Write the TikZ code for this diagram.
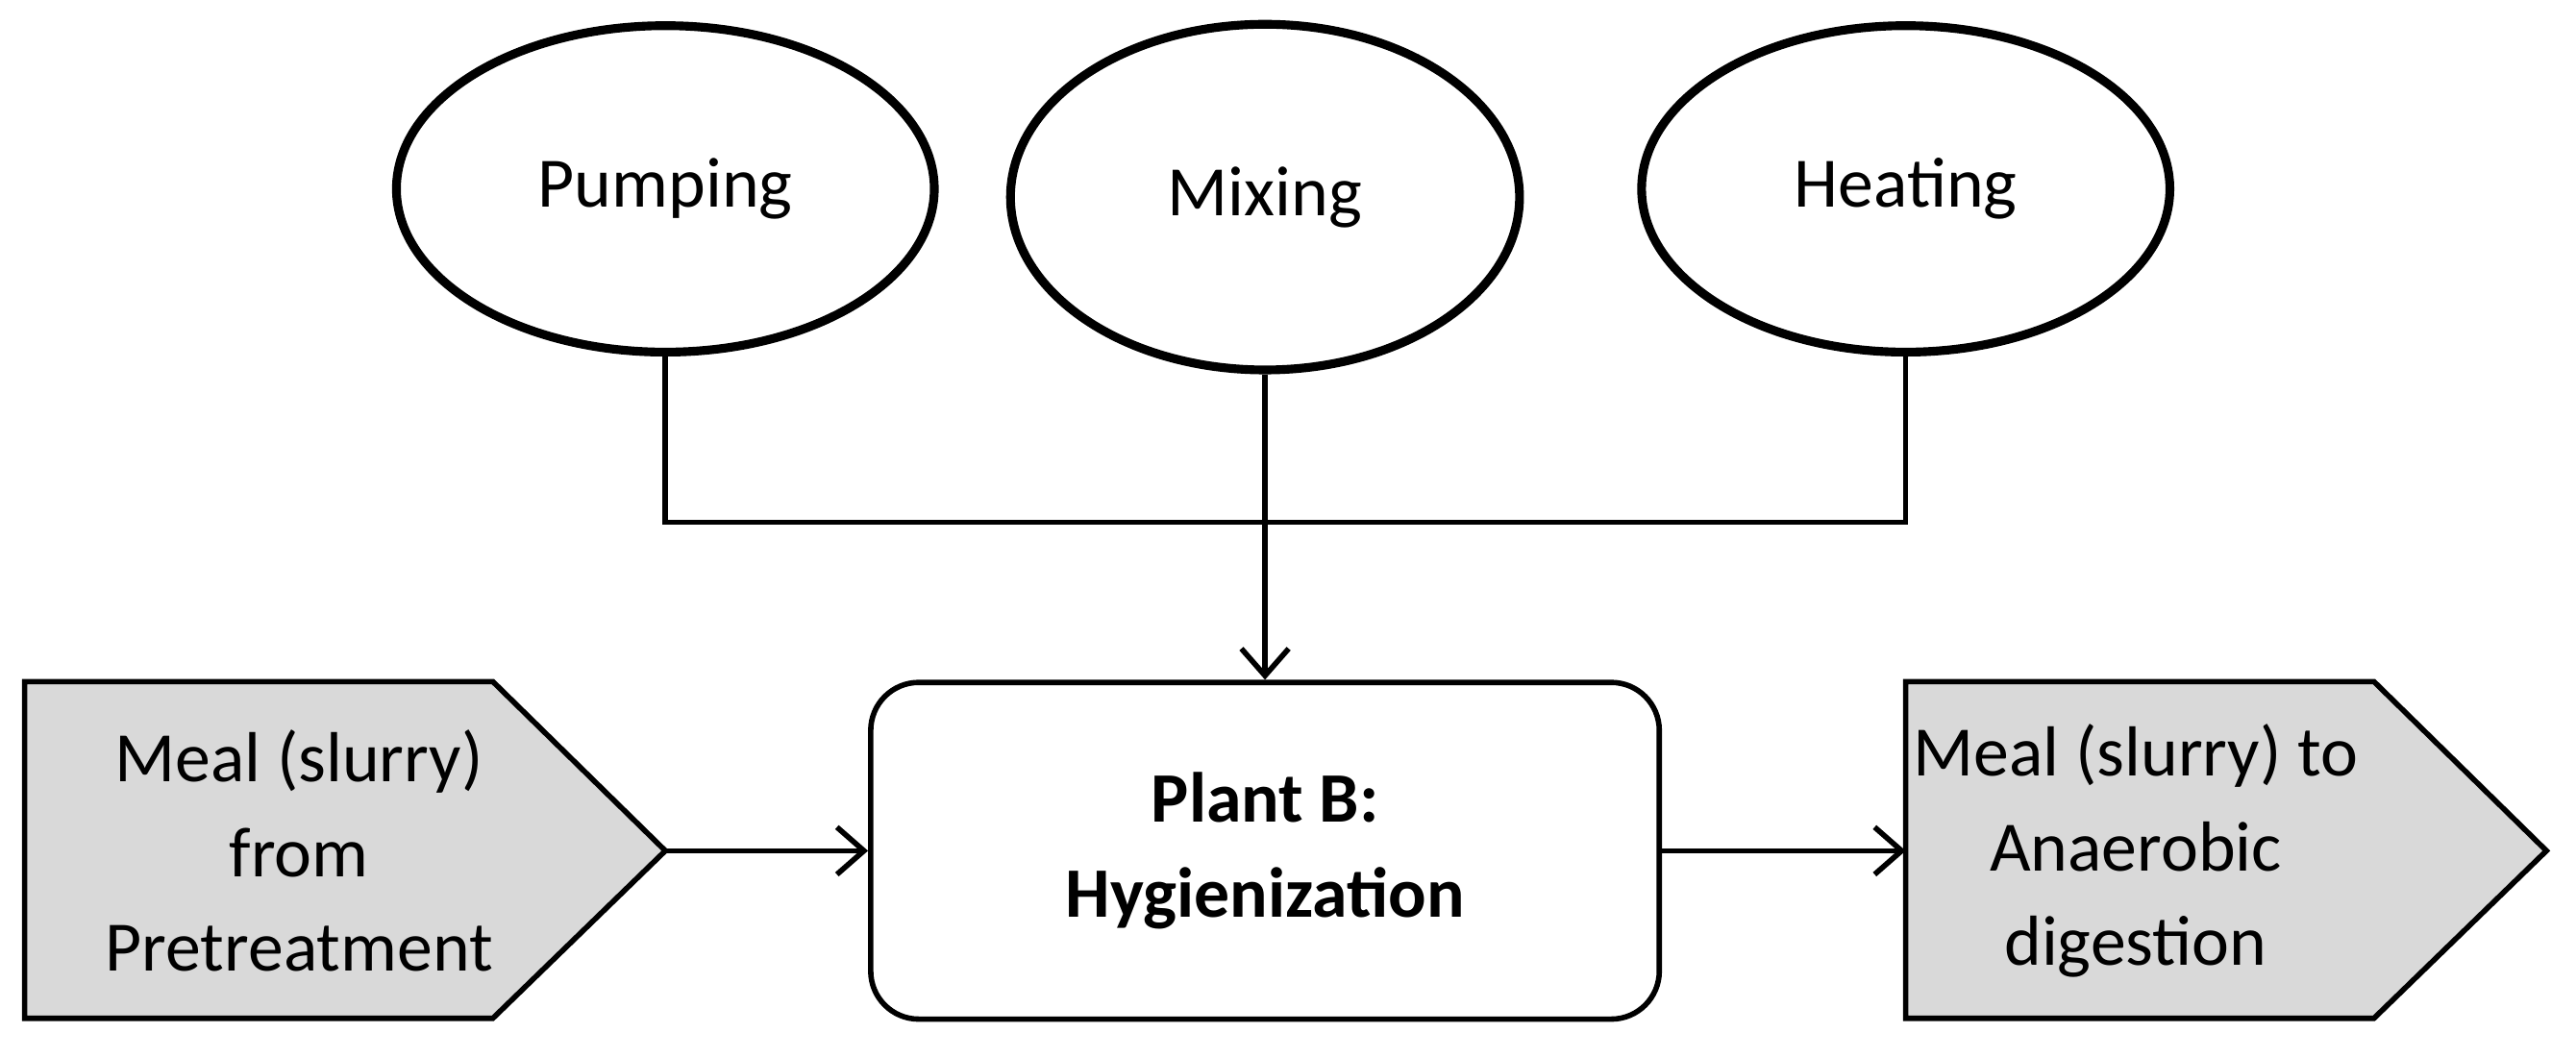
\documentclass[tikz,border=0pt]{standalone}
\usepackage{fontspec}
\setmainfont{Carlito}
\usetikzlibrary{shapes.geometric,arrows.meta}
\definecolor{boxgrey}{RGB}{217,217,217}
\begin{document}
\begin{tikzpicture}[x=0.0171cm,y=-0.0171cm,
  every node/.style={font=\fontsize{21}{28}\selectfont},
  task/.style={ellipse,draw,line width=2.6pt},
  line/.style={line width=1.6pt},
  >={Straight Barb[length=8pt,width=14pt,line width=1.6pt]},
]
  \useasboundingbox (0,0) rectangle (1568,643);

  \node[task,minimum width=5.6cm,minimum height=3.4cm] (pump) at (405,115) {Pumping};
  \node[task,minimum width=5.3cm,minimum height=3.6cm] (mix) at (770,120) {Mixing};
  \node[task,minimum width=5.5cm,minimum height=3.4cm] (heat) at (1160,115) {Heating};

  \node[draw,line width=1.6pt,rounded corners=0.5cm,align=center,
    minimum width=480*0.0171cm,minimum height=205*0.0171cm,font=\fontsize{21}{28}\selectfont\bfseries]
    (plant) at (770,518) {Plant B:\\Hygienization};

  % grey in/out arrows
  \draw[line,fill=boxgrey] (15,415) -- (300,415) -- (405,518) -- (300,620) -- (15,620) -- cycle;
  \node[align=center] (inp) at (182,518) {Meal (slurry)\\from\\Pretreatment};
  \draw[line,fill=boxgrey] (1160,415) -- (1445,415) -- (1550,518) -- (1445,620) -- (1160,620) -- cycle;
  \node[align=center] (outp) at (1300,518) {Meal (slurry) to\\Anaerobic\\digestion};

  \coordinate (inpt) at (405,518);
  \coordinate (outl) at (1160,518);
  \coordinate (jl) at (405,318);
  \coordinate (jr) at (1160,318);

  \draw[line] (pump.south) -- (jl) -- (jr) -- (heat.south);
  \draw[line,->] (mix.south) -- (plant.north);
  \draw[line,->] (inpt) -- (plant.west);
  \draw[line,->] (plant.east) -- (outl);
\end{tikzpicture}
\end{document}
